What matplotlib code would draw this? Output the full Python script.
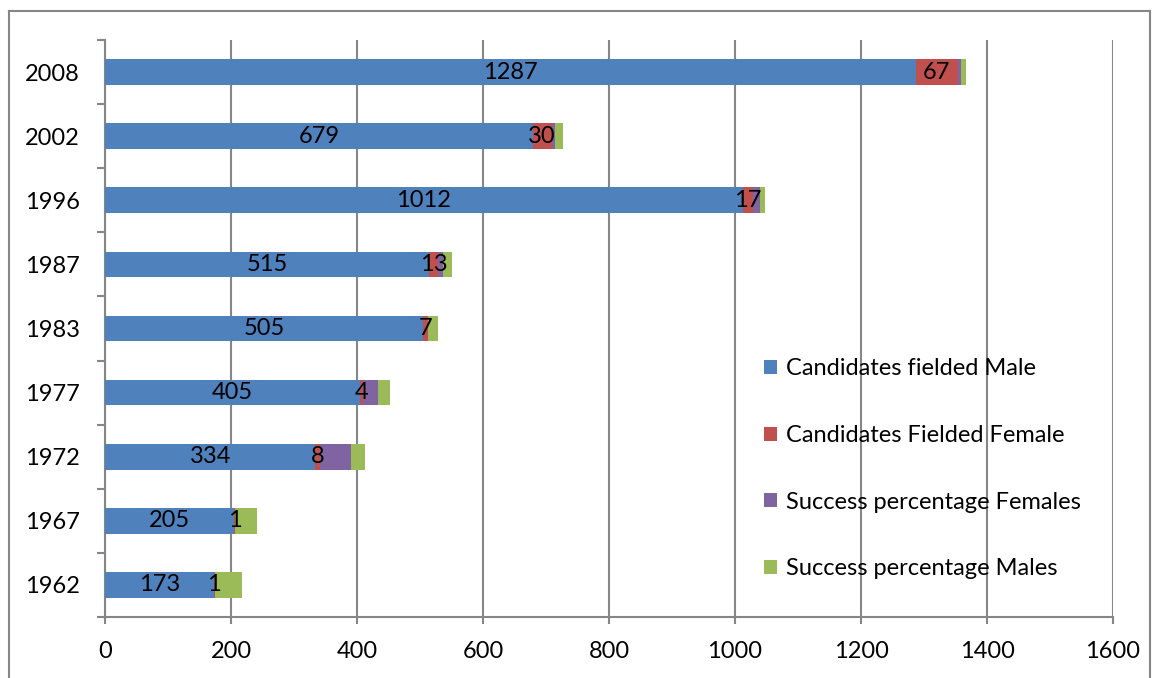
import numpy as np
import matplotlib
matplotlib.use("Agg")
import matplotlib.pyplot as plt
from matplotlib.lines import Line2D

plt.rcParams['font.family'] = ['Lato', 'DejaVu Sans']

years = ["1962", "1967", "1972", "1977", "1983", "1987", "1996", "2002", "2008"]
male_fielded = [173, 205, 334, 405, 505, 515, 1012, 679, 1287]
female_fielded = [1, 1, 8, 4, 7, 13, 17, 30, 67]
female_success = [0, 0, 49, 24, 0, 8, 10, 5, 5]
male_success = [43, 35, 22, 19, 16, 15, 9, 13, 7]

series = [
    ("Candidates fielded Male", male_fielded, "#4F81BD", True),
    ("Candidates Fielded Female", female_fielded, "#C0504D", True),
    ("Success percentage Females", female_success, "#8064A2", False),
    ("Success percentage Males", male_success, "#9BBB59", False),
]

grey = "#868686"
fs = 17

fig = plt.figure(figsize=(11.54, 6.78), dpi=100)
ax = fig.add_axes([105 / 1154, 1 - 617 / 678, (1113 - 105) / 1154, (617 - 40) / 678])

y = np.arange(len(years))
left = np.zeros(len(years))
for name, vals, color, labelled in series:
    vals = np.array(vals, dtype=float)
    bars = ax.barh(y, vals, left=left, height=0.4, color=color, label=name, zorder=3)
    if labelled:
        ax.bar_label(bars, labels=[str(int(v)) for v in vals], label_type="center",
                     fontsize=fs, color="black", zorder=4)
    left += vals

ax.set_xlim(0, 1600)
ax.set_ylim(-0.5, len(years) - 0.5)
ax.set_xticks(np.arange(0, 1601, 200))
ax.set_yticks(y)
ax.set_yticklabels(years)
ax.set_yticks(np.arange(-0.5, len(years), 1), minor=True)

ax.tick_params(axis="y", which="major", length=0, pad=18, labelsize=fs)
ax.tick_params(axis="y", which="minor", length=6, width=1.5, color=grey)
ax.tick_params(axis="x", length=5, width=1.5, color=grey, pad=12, labelsize=fs)

ax.grid(axis="x", color=grey, linewidth=1.5, zorder=0)
ax.set_axisbelow(True)
for s in ["top", "right"]:
    ax.spines[s].set_visible(False)
for s in ["left", "bottom"]:
    ax.spines[s].set_color(grey)
    ax.spines[s].set_linewidth(1.5)

ax.legend(loc="upper left", bbox_to_anchor=(650 / 1008, 1 - 309 / 577), frameon=False,
          fontsize=fs, handlelength=0.55, handleheight=0.55, handletextpad=0.35,
          labelspacing=1.93, borderaxespad=0)

# outer chart border
bx0, by0, bx1 = 9 / 1154, 1 - 11 / 678, 1150 / 1154
fig.add_artist(Line2D([bx0, bx0], [0, by0], color=grey, linewidth=1.5))
fig.add_artist(Line2D([bx0, bx1], [by0, by0], color=grey, linewidth=1.5))
fig.add_artist(Line2D([bx1, bx1], [0, by0], color=grey, linewidth=1.5))

fig.savefig("out.png", dpi=100)
